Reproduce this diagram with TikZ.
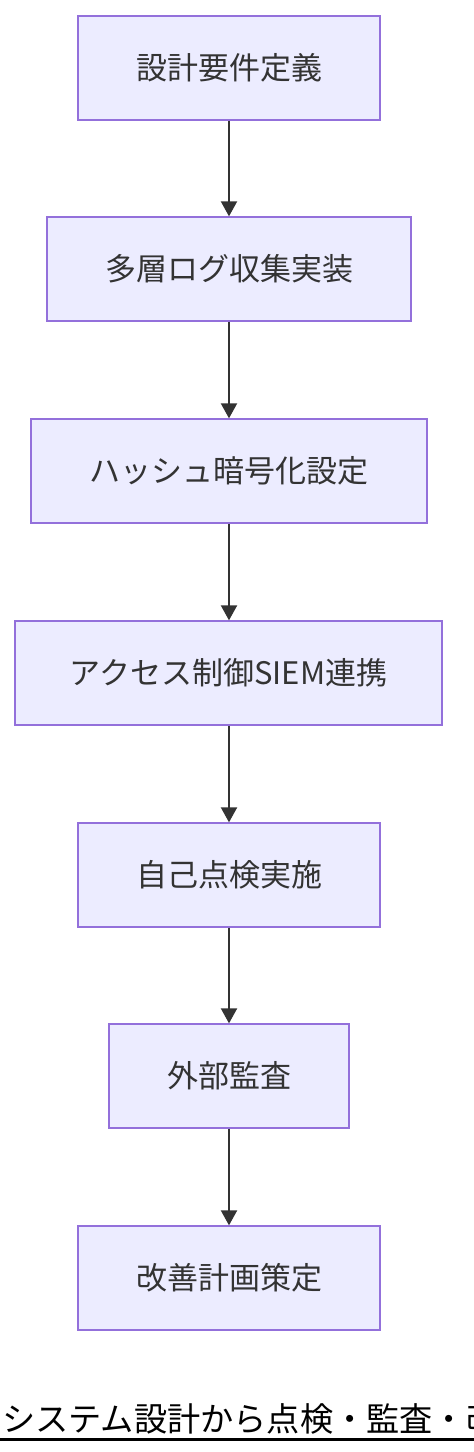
\documentclass[tikz,border=0pt]{standalone}
\usepackage{fontspec}
\setmainfont{Noto Sans CJK JP}
\newfontfamily\cjk{Noto Sans CJK JP}
\usetikzlibrary{arrows.meta}
\definecolor{nodefill}{HTML}{ECECFF}
\definecolor{nodeline}{HTML}{9370DB}
\definecolor{edgecol}{HTML}{333333}
\definecolor{txt}{HTML}{333333}
\tikzset{
  stepbox/.style={draw=nodeline, fill=nodefill, line width=1.3pt, rectangle,
    minimum height=104pt, inner sep=0pt, text=txt,
    font=\cjk\fontsize{31pt}{36pt}\selectfont},
  flow/.style={draw=edgecol, line width=2pt, -{Triangle[length=15pt,width=16pt]}}
}
\begin{document}
\begin{tikzpicture}[x=1pt,y=-1pt]
\useasboundingbox[fill=white] (0,0) rectangle (474,1452);
\node[stepbox, minimum width=302pt] (n1) at (229,68) {設計要件定義};
\node[stepbox, minimum width=364pt] (n2) at (229,269) {多層ログ収集実装};
\node[stepbox, minimum width=396pt] (n3) at (229,471) {ハッシュ暗号化設定};
\node[stepbox, minimum width=427pt] (n4) at (228.5,673) {アクセス制御SIEM連携};
\node[stepbox, minimum width=302pt] (n5) at (229,875) {自己点検実施};
\node[stepbox, minimum width=240pt] (n6) at (229,1076) {外部監査};
\node[stepbox, minimum width=302pt] (n7) at (229,1278) {改善計画策定};
\draw[flow] (n1) -- (n2);
\draw[flow] (n2) -- (n3);
\draw[flow] (n3) -- (n4.north -| n3.south);
\draw[flow] (n4.south -| n3.south) -- (n5);
\draw[flow] (n5) -- (n6);
\draw[flow] (n6) -- (n7);
\node[anchor=base west, inner sep=0pt, font=\cjk\fontsize{33.2pt}{38pt}\selectfont] (title) at (2,1431) {システム設計から点検・監査・改};
\coordinate (ul1) at (0,1439.5);
\coordinate (ul2) at (474,1439.5);
\draw[line width=2.5pt, black] (ul1) -- (ul2);
\end{tikzpicture}
\end{document}
